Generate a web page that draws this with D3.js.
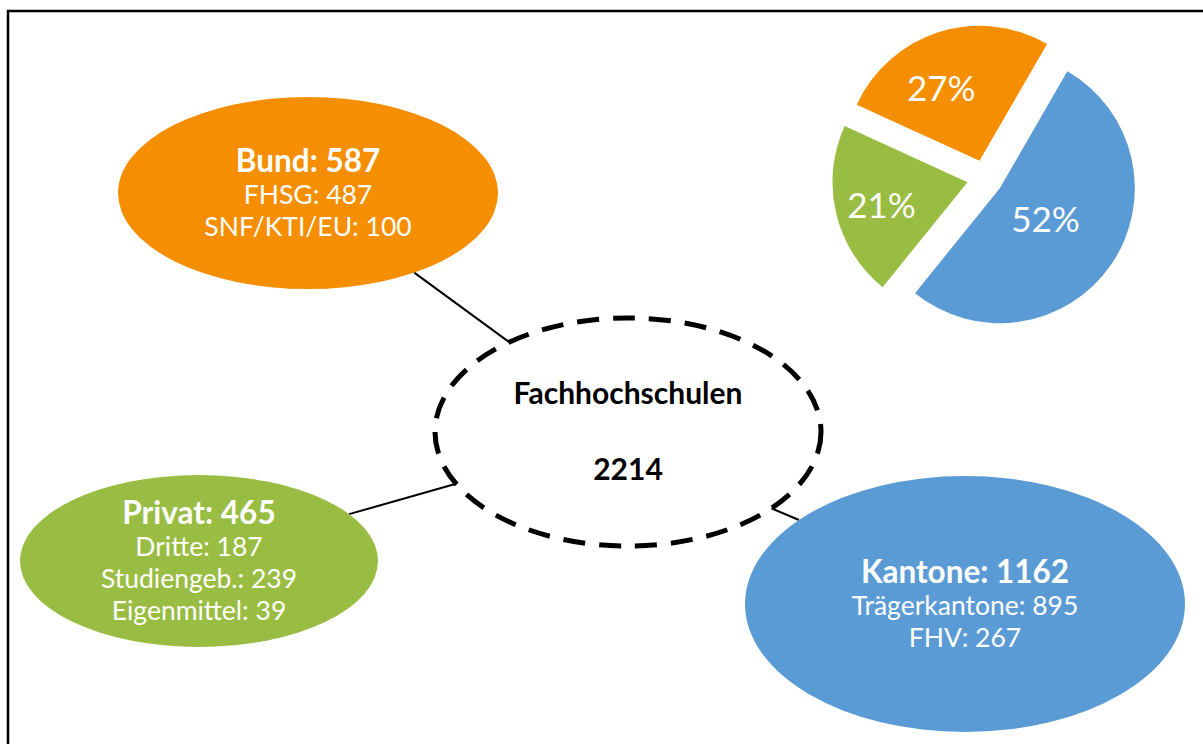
<!DOCTYPE html>
<html>
<head>
<meta charset="utf-8">
<script src="https://cdn.jsdelivr.net/npm/d3@7"></script>
<style>
  body { margin: 0; background: #fff; }
  svg { display: block; }
  text { font-family: Lato, "Open Sans", sans-serif; }
</style>
</head>
<body>
<svg id="chart" width="1203" height="744"></svg>
<script>
// data
var sources = ["Kantone", "Privat", "Bund"];
var totals = [1162, 465, 587];
var detailLabels = [
    ["Trägerkantone", "FHV"],
    ["Dritte", "Studiengeb.", "Eigenmittel"],
    ["FHSG", "SNF/KTI/EU"]
];
var detailValues = [
    [895, 267],
    [187, 239, 39],
    [487, 100]
];
var centerTitle = "Fachhochschulen";
var colors = ["#5B9BD5", "#99BD43", "#F58E00"];

// layout of the bubbles
var nodes = [
    {cx: 965, cy: 604, rx: 220, ry: 128, lineAt: 221, hubAt: 42},
    {cx: 199, cy: 561, rx: 179, ry: 86, lineAt: -33, hubAt: 153},
    {cx: 308, cy: 193, rx: 190, ry: 96, lineAt: 56, hubAt: 232}
];
var hub = {cx: 628, cy: 432, rx: 193, ry: 114};
var lineGap = 32;

var svg = d3.select("#chart");

// frame
svg.append("rect")
    .attr("x", 8).attr("y", 11)
    .attr("width", 1400).attr("height", 900)
    .attr("fill", "none")
    .attr("stroke", "#000")
    .attr("stroke-width", 2.5);

function onEllipse(e, deg) {
    var a = deg * Math.PI / 180;
    return [e.cx + e.rx * Math.cos(a), e.cy + e.ry * Math.sin(a)];
}

// connectors
nodes.forEach(function (n) {
    var p1 = onEllipse(n, n.lineAt);
    var p2 = onEllipse(hub, n.hubAt);
    svg.append("line")
        .attr("x1", p1[0]).attr("y1", p1[1])
        .attr("x2", p2[0]).attr("y2", p2[1])
        .attr("stroke", "#000")
        .attr("stroke-width", 2);
});

// bubbles
var g = svg.selectAll("g.node")
    .data(sources)
    .enter()
    .append("g")
    .attr("class", "node")
    .attr("transform", function (d, i) { return "translate(" + nodes[i].cx + "," + nodes[i].cy + ")"; });

g.append("ellipse")
    .attr("rx", function (d, i) { return nodes[i].rx; })
    .attr("ry", function (d, i) { return nodes[i].ry; })
    .attr("fill", function (d, i) { return colors[i]; });

g.each(function (d, i) {
    var lines = [{t: d + ": " + totals[i], bold: true}];
    detailLabels[i].forEach(function (l, j) {
        lines.push({t: l + ": " + detailValues[i][j], bold: false});
    });
    var first = 10.5 - (lines.length - 1) * lineGap / 2;
    d3.select(this).selectAll("text")
        .data(lines)
        .enter()
        .append("text")
        .attr("text-anchor", "middle")
        .attr("y", function (l, j) { return first + j * lineGap; })
        .attr("fill", "#fff")
        .attr("font-size", function (l) { return l.bold ? 31.5 : 26.5; })
        .attr("font-weight", function (l) { return l.bold ? 700 : 400; })
        .text(function (l) { return l.t; });
});

// hub
svg.append("ellipse")
    .attr("cx", hub.cx).attr("cy", hub.cy)
    .attr("rx", hub.rx).attr("ry", hub.ry)
    .attr("fill", "#fff")
    .attr("stroke", "#000")
    .attr("stroke-width", 5)
    .attr("stroke-dasharray", "22,14");

svg.append("text")
    .attr("x", hub.cx).attr("y", 404)
    .attr("text-anchor", "middle")
    .attr("font-size", 30).attr("font-weight", 700)
    .text(centerTitle);

svg.append("text")
    .attr("x", hub.cx).attr("y", 480)
    .attr("text-anchor", "middle")
    .attr("font-size", 30).attr("font-weight", 700)
    .text(d3.sum(totals));

// exploded pie
var pieC = [985, 178], R = 135, explode = 18;
var pie = d3.pie().sort(null).value(function (d) { return d; })
    .startAngle(Math.PI / 6).endAngle(Math.PI / 6 + 2 * Math.PI);
var arc = d3.arc().innerRadius(0).outerRadius(R);
var arcs = pie(totals);
var total = d3.sum(totals);
var labelR = [0.41, 0.66, 0.61];
var labelTurn = [0, -2, -10];

var slices = svg.append("g").selectAll("g")
    .data(arcs)
    .enter()
    .append("g")
    .attr("transform", function (d) {
        var m = (d.startAngle + d.endAngle) / 2;
        return "translate(" + (pieC[0] + explode * Math.sin(m)) + "," + (pieC[1] - explode * Math.cos(m)) + ")";
    });

slices.append("path")
    .attr("d", arc)
    .attr("fill", function (d, i) { return colors[i]; });

slices.append("text")
    .attr("text-anchor", "middle")
    .attr("dy", "0.36em")
    .attr("x", function (d, i) {
        var m = (d.startAngle + d.endAngle) / 2 + labelTurn[i] * Math.PI / 180;
        return labelR[i] * R * Math.sin(m);
    })
    .attr("y", function (d, i) {
        var m = (d.startAngle + d.endAngle) / 2 + labelTurn[i] * Math.PI / 180;
        return -labelR[i] * R * Math.cos(m);
    })
    .attr("fill", "#fff")
    .attr("font-size", 35)
    .text(function (d) { return d3.format(".0%")(d.value / total); });
</script>
</body>
</html>
